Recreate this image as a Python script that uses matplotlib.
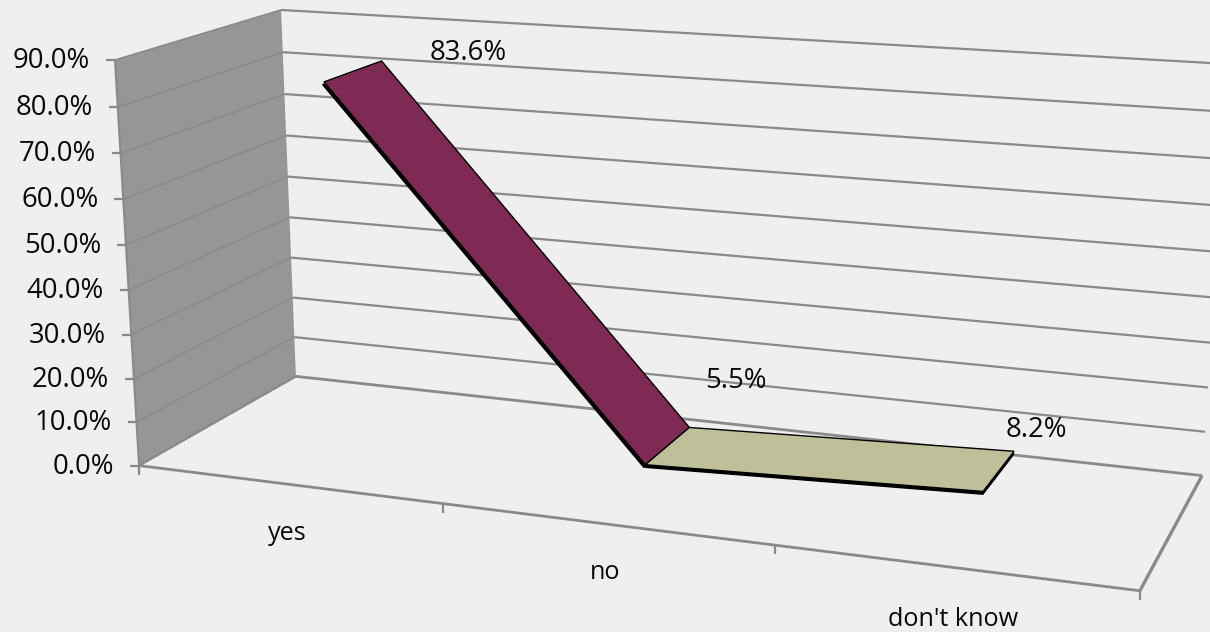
import numpy as np
import matplotlib
matplotlib.use("Agg")
import matplotlib.pyplot as plt

plt.rcParams['font.family'] = ['Open Sans', 'DejaVu Sans']

# the chart data
categories = ["yes", "no", "don't know"]
values = [83.6, 5.5, 8.2]
value_labels = ["83.6%", "5.5%", "8.2%"]
y_ticks = [0, 10, 20, 30, 40, 50, 60, 70, 80, 90]
y_tick_labels = ["0.0%", "10.0%", "20.0%", "30.0%", "40.0%", "50.0%", "60.0%", "70.0%", "80.0%", "90.0%"]

# colours
BG = "#EFEFEF"
WALL = "#969696"
GRID = "#8A8A8A"
SEGMENT_COLORS = ["#7F2A54", "#BFC099"]
TEXT = "#0A0A0A"
FONT = 19.8
CAT_FONT = 18.2

# box corners (x along categories, depth, value) and where they land on the canvas
box_pts = [(0, 0, 0), (0, 0, 90), (0, 1, 0), (0, 1, 90), (1, 0, 0), (1, 1, 0), (1, 1, 90),
           (1/3, 0, 0), (2/3, 0, 0)]
canvas_pts = [(139, 466), (115, 60), (296, 376), (281, 10), (1140, 590), (1202, 476), (1229, 64),
              (443, 503), (775, 546)]

# solve the perspective camera for the box
rows, rhs = [], []
for (a, b, c), (u, v) in zip(box_pts, canvas_pts):
    rows.append([a, b, c, 1, 0, 0, 0, 0, -u*a, -u*b, -u*c])
    rows.append([0, 0, 0, 0, a, b, c, 1, -v*a, -v*b, -v*c])
    rhs += [u, v]
cam = np.linalg.lstsq(np.array(rows, float), np.array(rhs, float), rcond=None)[0]
cam = np.append(cam, 1).reshape(3, 4)


def proj(a, b, c):
    p = cam @ np.array([a, b, c, 1.0])
    return p[0] / p[2], p[1] / p[2]


def line(ax, p, q, **kw):
    ax.plot([p[0], q[0]], [p[1], q[1]], solid_capstyle='butt', **kw)


def poly(ax, pts, **kw):
    ax.fill([p[0] for p in pts], [p[1] for p in pts], **kw)


fig = plt.figure(figsize=(12.1, 6.32), dpi=100, facecolor=BG)
ax = fig.add_axes([0, 0, 1, 1])
ax.set_xlim(0, 1210)
ax.set_ylim(632, 0)
ax.axis('off')

# left wall
poly(ax, [proj(0, 0, 0), proj(0, 0, 90), proj(0, 1, 90), proj(0, 1, 0)], color=WALL, lw=0)
line(ax, proj(0, 0, 0), proj(0, 0, 90), color=GRID, lw=1.5)

# gridlines on both walls, ticks and value axis labels
for t, lab in zip(y_ticks, y_tick_labels):
    line(ax, proj(0, 0, t), proj(0, 1, t), color=GRID, lw=1.2)
    line(ax, proj(0, 1, t), proj(1, 1, t), color=GRID, lw=2.0 if t == 0 else 1.6)
    px, py = proj(0, 0, t)
    line(ax, (px - 9, py), (px, py), color=GRID, lw=1.6)
    ax.text(px - 25, py + 1, lab, ha='right', va='center', fontsize=FONT, color=TEXT)

# floor outline
line(ax, proj(0, 0, 0), proj(1, 0, 0), color=GRID, lw=2)
line(ax, proj(1, 0, 0), proj(1, 1, 0), color=GRID, lw=2.4)
line(ax, proj(0, 0, 0), proj(0, 1, 0), color=GRID, lw=1.6)

# category ticks and labels
CAT_LABEL_DY = [49, 49, 52]
for i in range(len(categories) + 1):
    px, py = proj(i / len(categories), 0, 0)
    line(ax, (px, py), (px, py + 9), color=GRID, lw=1.6)
for i, cat in enumerate(categories):
    px, py = proj((i + 0.5) / len(categories), 0, 0)
    ax.text(px, py + CAT_LABEL_DY[i], cat, ha='center', va='center', fontsize=CAT_FONT, color=TEXT)

# ribbon, with a dark underside showing below each segment
DEPTH_FRONT, DEPTH_BACK = 0.32, 0.70
LABEL_OFFSETS = [(87, -8), (47, -46), (22, -21)]
UNDER_SHIFT = [-1.5, 0]
centers = [(i + 0.5) / len(categories) for i in range(len(categories))]
for i, col in enumerate(SEGMENT_COLORS):
    a0, a1 = centers[i], centers[i + 1]
    v0, v1 = values[i], values[i + 1]
    under = [proj(a0, DEPTH_FRONT, v0 - 0.6), proj(a1, DEPTH_FRONT, v1 - 0.6),
             proj(a1, DEPTH_BACK, v1 - 0.6), proj(a0, DEPTH_BACK, v0 - 0.6)]
    under = [(p[0] + UNDER_SHIFT[i], p[1]) for p in under]
    poly(ax, under, facecolor='black', edgecolor='black', lw=1, zorder=5)
    top = [proj(a0, DEPTH_FRONT, v0), proj(a1, DEPTH_FRONT, v1),
           proj(a1, DEPTH_BACK, v1), proj(a0, DEPTH_BACK, v0)]
    poly(ax, top, facecolor=col, edgecolor='black', lw=1, zorder=5)

# value labels
for a, v, lab, off in zip(centers, values, value_labels, LABEL_OFFSETS):
    px, py = proj(a, DEPTH_BACK, v)
    ax.text(px + off[0], py + off[1], lab, ha='center', va='center', fontsize=FONT, color=TEXT, zorder=6)

fig.savefig("out.png", dpi=100, facecolor=BG)
